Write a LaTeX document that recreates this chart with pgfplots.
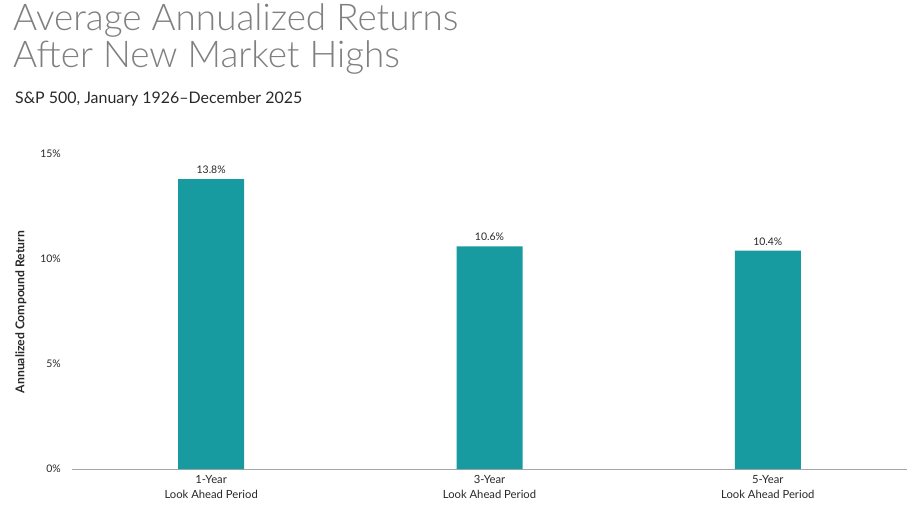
\documentclass[border=0pt]{standalone}
\usepackage{pgfplots}
\pgfplotsset{compat=1.18}
\usepackage{fontspec}
\setmainfont{Lato}
\newfontfamily\titlefont{Lato Light}
\definecolor{barteal}{RGB}{24,155,160}
\definecolor{titlegray}{RGB}{128,128,128}
\definecolor{txt}{RGB}{40,40,40}
\begin{document}
\begin{tikzpicture}
\path[use as bounding box] (0bp,0bp) rectangle (911bp,-506bp);
\node[anchor=base west,inner sep=0pt,text=titlegray,font=\titlefont\fontsize{37}{39}\selectfont] at (13bp,-30bp) {Average Annualized Returns};
\node[anchor=base west,inner sep=0pt,text=titlegray,font=\titlefont\fontsize{37}{39}\selectfont] at (13bp,-67bp) {After New Market Highs};
\node[anchor=base west,inner sep=0pt,text=txt,font=\fontsize{16}{18}\selectfont] at (15bp,-103bp) {S\&P 500, January 1926–December 2025};
\begin{axis}[
  at={(72bp,-469bp)}, anchor=south west,
  scale only axis, width=835bp, height=315bp,
  xmin=-0.5, xmax=2.5, ymin=0, ymax=15,
  axis x line=bottom, axis y line=none,
  axis line style={draw=gray!70,-},
  ytick={0,5,10,15},
  xtick={0,1,2},
  xticklabels={{1-Year\\Look Ahead Period},{3-Year\\Look Ahead Period},{5-Year\\Look Ahead Period}},
  xticklabel style={align=center,font=\fontsize{11.3}{15}\selectfont,text=txt,yshift=-3bp},
  major tick length=0pt,
  clip=false,
]
\addplot[ybar, bar width=66bp, fill=barteal, draw=none,
  nodes near coords={\pgfmathprintnumber[fixed,fixed zerofill,precision=1,assume math mode=true]{\pgfplotspointmeta}\%},
  nodes near coords style={font=\fontsize{10.5}{12}\selectfont,text=txt,yshift=2pt},
] coordinates {(0,13.8) (1,10.6) (2,10.4)};
\foreach \v in {0,5,10,15} {
  \edef\tmp{\noexpand\node[anchor=east,font=\noexpand\fontsize{10.5}{12}\noexpand\selectfont,text=txt,inner sep=0pt] at (axis cs:-0.5,\v) [xshift=-11bp] {\v\noexpand\%};}
  \tmp
}
\end{axis}
\node[rotate=90,font=\bfseries\fontsize{12.2}{14}\selectfont,text=txt] at (21bp,-312bp) {Annualized Compound Return};
\end{tikzpicture}
\end{document}
